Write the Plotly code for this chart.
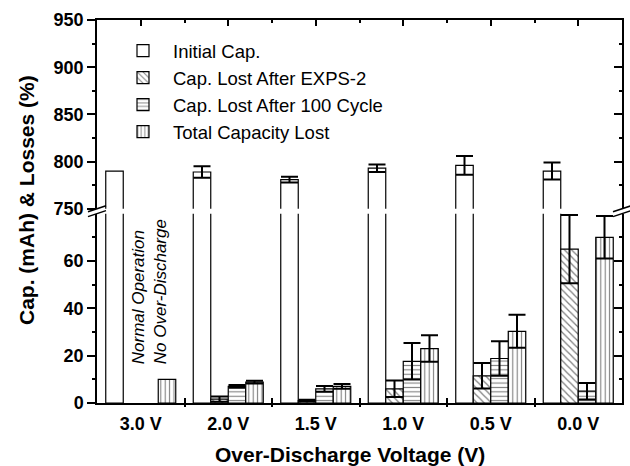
import plotly.graph_objects as go

categories = ["3.0 V", "2.0 V", "1.5 V", "1.0 V", "0.5 V", "0.0 V"]
initial_cap = [790, 789, 781, 793, 796, 790]
initial_cap_err = [None, 6, 3, 4, 10, 9]
lost_exps2 = [None, 1.6, 1.0, 6.0, 11.5, 65]
lost_exps2_err = [None, 1.1, 0.4, 3.5, 5.4, 14.4]
lost_100cycle = [None, 7.0, 6.0, 17.6, 18.8, 5.0]
lost_100cycle_err = [None, 0.6, 1.2, 7.7, 7.3, 3.5]
total_lost = [10, 8.8, 7.0, 23.0, 30.3, 70]
total_lost_err = [None, 0.6, 1.0, 5.6, 7.0, 9.0]

series = [
    ("Initial Cap.", initial_cap, initial_cap_err, ""),
    ("Cap. Lost After EXPS-2", lost_exps2, lost_exps2_err, "\\"),
    ("Cap. Lost After 100 Cycle", lost_100cycle, lost_100cycle_err, "-"),
    ("Total Capacity Lost", total_lost, total_lost_err, "|"),
]

FONT = "Liberation Sans, Arial, sans-serif"
xpos = list(range(len(categories)))

fig = go.Figure()
for xa, ya, show in (("x", "y", False), ("x2", "y2", True)):
    for name, vals, errs, shape in series:
        pat = dict(shape=shape, fgcolor="black", bgcolor="white",
                   size=5 if shape == "\\" else 4.4, solidity=0.25, fillmode="overlay")
        # missing errors -> "NaN" so that no error bar is drawn for that point
        err_arr = ["NaN" if e is None else e for e in errs]
        fig.add_trace(go.Bar(
            x=xpos, y=vals, name=name, xaxis=xa, yaxis=ya,
            showlegend=show, legendgroup=name,
            marker=dict(color="white", line=dict(color="black", width=1.2),
                        pattern=pat if shape else None),
            error_y=dict(type="data", array=err_arr, visible=True, color="black",
                         thickness=2, width=8.5),
        ))

# helper empty traces so overlay axes get drawn
fig.add_trace(go.Scatter(x=[None], y=[None], xaxis="x3", yaxis="y", showlegend=False, hoverinfo="skip"))
fig.add_trace(go.Scatter(x=[None], y=[None], xaxis="x", yaxis="y3", showlegend=False, hoverinfo="skip"))
fig.add_trace(go.Scatter(x=[None], y=[None], xaxis="x2", yaxis="y4", showlegend=False, hoverinfo="skip"))

L, R, T, B = 97, 8, 20, 63
W, H = 630, 466
ph = H - T - B
lower_top = 0.4944
upper_bot = 0.507

tickfont = dict(family=FONT, size=18, color="black", weight="bold")
bounds = [i + 0.5 for i in range(len(categories) - 1)]
common_x = dict(range=[-0.5, len(categories) - 0.5], showgrid=False, zeroline=False)

fig.update_layout(
    width=W, height=H,
    margin=dict(l=L, r=R, t=T, b=B),
    paper_bgcolor="white", plot_bgcolor="white",
    barmode="group", bargap=0.2, bargroupgap=0,
    font=dict(family=FONT, color="black"),
    xaxis=dict(**common_x, domain=[0, 1], anchor="y", tickmode="array", tickvals=xpos,
               ticktext=categories, ticks="", showline=True, linecolor="black", linewidth=1.5,
               tickfont=tickfont, ticklabelstandoff=4,
               minor=dict(tickmode="array", tickvals=bounds, ticks="inside", ticklen=5,
                          tickcolor="black", tickwidth=1.5, showgrid=False)),
    xaxis3=dict(**common_x, overlaying="x", anchor="y", side="bottom", tickmode="array",
                tickvals=bounds, showticklabels=False, ticks="outside", ticklen=3,
                tickcolor="black", tickwidth=1.5, showline=False),
    xaxis2=dict(**common_x, domain=[0, 1], anchor="y2", side="top", tickmode="array",
                tickvals=xpos, showticklabels=False, ticks="inside", ticklen=6,
                tickcolor="black", tickwidth=1.5, showline=True, linecolor="black", linewidth=1.5,
                minor=dict(tickmode="array", tickvals=bounds, ticks="inside", ticklen=3,
                           tickcolor="black", tickwidth=1.5, showgrid=False)),
    yaxis=dict(domain=[0, lower_top], range=[0, 80], anchor="x", tickmode="array",
               tickvals=[0, 20, 40, 60], ticks="outside", ticklen=8, tickwidth=1.5,
               tickcolor="black", showline=True, linecolor="black", linewidth=1.5,
               showgrid=False, zeroline=False, tickfont=tickfont,
               minor=dict(tickmode="array", tickvals=[10, 30, 50, 70], ticks="outside",
                          ticklen=3, tickcolor="black", tickwidth=1.5, showgrid=False)),
    yaxis3=dict(overlaying="y", side="right", anchor="x", range=[0, 80], tickmode="array",
                tickvals=[0, 20, 40, 60], ticks="inside", ticklen=8, tickwidth=1.5,
                tickcolor="black", showline=True, linecolor="black", linewidth=1.5,
                showgrid=False, zeroline=False, showticklabels=False,
                minor=dict(tickmode="array", tickvals=[10, 30, 50, 70], ticks="inside",
                           ticklen=3, tickcolor="black", tickwidth=1.5, showgrid=False)),
    yaxis2=dict(domain=[upper_bot, 1], range=[750, 950], anchor="x2", tickmode="array",
                tickvals=[750, 800, 850, 900, 950], ticks="outside", ticklen=8, tickwidth=1.5,
                tickcolor="black", showline=True, linecolor="black", linewidth=1.5,
                showgrid=False, zeroline=False, tickfont=tickfont,
                minor=dict(tickmode="array", tickvals=[775, 825, 875, 925], ticks="outside",
                           ticklen=3, tickcolor="black", tickwidth=1.5, showgrid=False)),
    yaxis4=dict(overlaying="y2", side="right", anchor="x2", range=[750, 950], tickmode="array",
                tickvals=[750, 800, 850, 900, 950], ticks="inside", ticklen=8, tickwidth=1.5,
                tickcolor="black", showline=True, linecolor="black", linewidth=1.5,
                showgrid=False, zeroline=False, showticklabels=False,
                minor=dict(tickmode="array", tickvals=[775, 825, 875, 925], ticks="inside",
                           ticklen=3, tickcolor="black", tickwidth=1.5, showgrid=False)),
    legend=dict(x=(113 - L) / 525, y=(H - B - 32) / ph, xanchor="left", yanchor="top",
                bgcolor="rgba(0,0,0,0)", font=dict(family=FONT, size=18.5, color="black"),
                traceorder="grouped", tracegroupgap=0, itemwidth=50),
    showlegend=True,
)

# axis titles
fig.add_annotation(text="<b>Over-Discharge Voltage (V)</b>", xref="paper", yref="paper",
                   x=(350 - L) / 525, y=-(454 - (H - B)) / ph, xanchor="center", yanchor="middle",
                   showarrow=False, font=dict(family=FONT, size=21, color="black"))
fig.add_annotation(text="<b>Cap. (mAh) & Losses (%)</b>", xref="paper", yref="paper",
                   x=(26 - L) / 525, y=((H - B) - 200) / ph, xanchor="center", yanchor="middle",
                   textangle=-90, showarrow=False, font=dict(family=FONT, size=21, color="black"))
fig.add_annotation(text="<i>Normal Operation<br>No Over-Discharge</i>", xref="x", yref="y",
                   x=0.1, y=47, xanchor="center", yanchor="middle", textangle=-90, align="left",
                   showarrow=False, font=dict(family=FONT, size=17, color="black"))

# axis break marks
for xp in (0, 1):
    for yp in (upper_bot, lower_top):
        fig.add_shape(type="line", xref="paper", yref="paper", xsizemode="pixel",
                      ysizemode="pixel", xanchor=xp, yanchor=yp, x0=-9, x1=9, y0=-3, y1=3,
                      line=dict(color="black", width=1.5))

fig.write_html("out.html")
